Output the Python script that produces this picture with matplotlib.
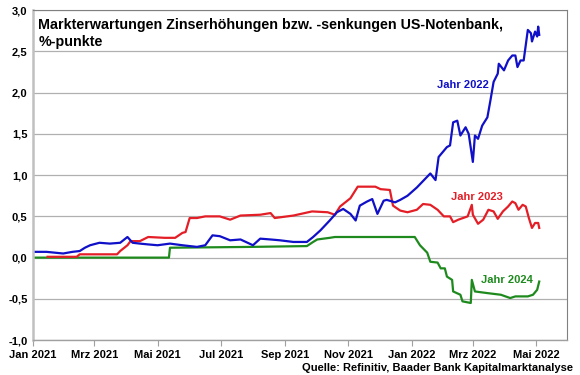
import matplotlib
matplotlib.use("Agg")
import matplotlib.pyplot as plt
import matplotlib.dates as mdates
from matplotlib.ticker import FuncFormatter, MultipleLocator
import pandas as pd

plt.rcParams['font.family'] = ['Liberation Sans', 'DejaVu Sans']
plt.rcParams['font.weight'] = 'bold'

# Markterwartung fuer Jahr 2022 (blau)
dates_2022 = ["2021-01-01", "2021-01-14", "2021-01-30", "2021-02-08", "2021-02-15", "2021-02-20",
              "2021-02-25", "2021-03-06", "2021-03-16", "2021-03-26", "2021-04-02", "2021-04-07",
              "2021-04-14", "2021-04-22", "2021-05-01", "2021-05-13", "2021-05-25", "2021-06-08",
              "2021-06-16", "2021-06-23", "2021-06-30", "2021-07-10", "2021-07-20", "2021-08-01",
              "2021-08-08", "2021-08-18", "2021-08-27", "2021-09-09", "2021-09-22", "2021-09-28",
              "2021-10-05", "2021-10-14", "2021-10-21", "2021-10-27", "2021-11-03", "2021-11-08",
              "2021-11-12", "2021-11-19", "2021-11-24", "2021-11-29", "2021-12-05", "2021-12-08",
              "2021-12-16", "2021-12-21", "2021-12-28", "2022-01-06", "2022-01-19", "2022-01-24",
              "2022-01-27", "2022-02-04", "2022-02-07", "2022-02-10", "2022-02-14", "2022-02-17",
              "2022-02-22", "2022-02-25", "2022-03-01", "2022-03-03", "2022-03-06", "2022-03-10",
              "2022-03-15", "2022-03-18", "2022-03-21", "2022-03-25", "2022-03-26", "2022-03-31",
              "2022-04-04", "2022-04-08", "2022-04-11", "2022-04-13", "2022-04-16", "2022-04-19",
              "2022-04-23", "2022-04-26", "2022-04-27", "2022-04-30", "2022-05-02", "2022-05-03",
              "2022-05-04"]
vals_2022 = [0.07, 0.07, 0.05, 0.07, 0.08, 0.12,
             0.15, 0.18, 0.17, 0.18, 0.25, 0.18,
             0.17, 0.16, 0.15, 0.17, 0.15, 0.13,
             0.15, 0.27, 0.26, 0.21, 0.22, 0.15,
             0.23, 0.22, 0.21, 0.19, 0.19, 0.25,
             0.33, 0.45, 0.55, 0.59, 0.53, 0.45,
             0.63, 0.68, 0.71, 0.53, 0.69, 0.70,
             0.67, 0.70, 0.75, 0.85, 1.02, 0.94,
             1.22, 1.34, 1.36, 1.64, 1.66, 1.48,
             1.58, 1.50, 1.16, 1.48, 1.44, 1.60,
             1.70, 1.91, 2.13, 2.23, 2.35, 2.27,
             2.39, 2.45, 2.45, 2.31, 2.39, 2.39,
             2.76, 2.72, 2.62, 2.74, 2.68, 2.80,
             2.70]

# Markterwartung fuer Jahr 2023 (rot)
dates_2023 = ["2021-01-15", "2021-02-12", "2021-02-15", "2021-03-23", "2021-03-26", "2021-03-30",
              "2021-04-02", "2021-04-05", "2021-04-14", "2021-04-22", "2021-05-08", "2021-05-18",
              "2021-05-25", "2021-05-28", "2021-06-01", "2021-06-08", "2021-06-16", "2021-06-30",
              "2021-07-10", "2021-07-20", "2021-08-08", "2021-08-18", "2021-08-22", "2021-09-09",
              "2021-09-27", "2021-10-12", "2021-10-19", "2021-10-24", "2021-10-31", "2021-11-03",
              "2021-11-10", "2021-11-27", "2021-12-02", "2021-12-11", "2021-12-14", "2021-12-21",
              "2021-12-28", "2022-01-06", "2022-01-12", "2022-01-19", "2022-01-26", "2022-02-01",
              "2022-02-07", "2022-02-10", "2022-02-15", "2022-02-24", "2022-02-28", "2022-03-01",
              "2022-03-06", "2022-03-11", "2022-03-16", "2022-03-21", "2022-03-25", "2022-03-30",
              "2022-04-04", "2022-04-08", "2022-04-11", "2022-04-14", "2022-04-18", "2022-04-21",
              "2022-04-24", "2022-04-27", "2022-04-30", "2022-05-03", "2022-05-04"]
vals_2023 = [0.01, 0.01, 0.04, 0.04, 0.08, 0.12,
             0.15, 0.20, 0.20, 0.25, 0.24, 0.24,
             0.30, 0.31, 0.48, 0.48, 0.50, 0.50,
             0.46, 0.51, 0.52, 0.54, 0.48, 0.51,
             0.56, 0.55, 0.52, 0.62, 0.69, 0.72,
             0.86, 0.86, 0.83, 0.82, 0.63, 0.57,
             0.55, 0.58, 0.65, 0.64, 0.58, 0.50,
             0.50, 0.43, 0.46, 0.50, 0.64, 0.52,
             0.41, 0.46, 0.58, 0.56, 0.47, 0.56,
             0.62, 0.68, 0.66, 0.58, 0.64, 0.62,
             0.48, 0.36, 0.42, 0.42, 0.36]

# Markterwartung fuer Jahr 2024 (gruen)
dates_2024 = ["2021-01-01", "2021-05-12", "2021-05-13", "2021-07-30", "2021-09-22", "2021-09-28",
              "2021-10-02", "2021-10-14", "2021-10-19", "2022-01-04", "2022-01-09", "2022-01-16",
              "2022-01-19", "2022-01-26", "2022-01-29", "2022-02-02", "2022-02-04", "2022-02-09",
              "2022-02-10", "2022-02-17", "2022-02-19", "2022-02-27", "2022-02-28", "2022-03-03",
              "2022-03-15", "2022-03-28", "2022-04-06", "2022-04-11", "2022-04-23", "2022-04-28",
              "2022-05-02", "2022-05-04"]
vals_2024 = [0.00, 0.00, 0.12, 0.13, 0.14, 0.19,
             0.22, 0.24, 0.25, 0.25, 0.15, 0.06,
             -0.05, -0.06, -0.13, -0.13, -0.23, -0.27,
             -0.41, -0.45, -0.53, -0.55, -0.27, -0.41,
             -0.43, -0.45, -0.49, -0.47, -0.47, -0.45,
             -0.39, -0.29]

title = "Markterwartungen Zinserhöhungen bzw. -senkungen US-Notenbank,\n%-punkte"
source = "Quelle: Refinitiv, Baader Bank Kapitalmarktanalyse"

c_2022, c_2023, c_2024 = "#1010C8", "#E41E26", "#1E8A1E"

fig = plt.figure(figsize=(5.8, 3.75), dpi=100)
ax = fig.add_axes([0.057, 0.093, 0.921, 0.88])

ax.plot(pd.to_datetime(dates_2024), vals_2024, color=c_2024, lw=1.6)
ax.plot(pd.to_datetime(dates_2023), vals_2023, color=c_2023, lw=1.6)
ax.plot(pd.to_datetime(dates_2022), vals_2022, color=c_2022, lw=1.6)

ax.set_ylim(-1.0, 3.0)
ax.set_xlim(pd.Timestamp("2021-01-01"), pd.Timestamp("2022-05-31"))
ax.yaxis.set_major_locator(MultipleLocator(0.5))
ax.yaxis.set_major_formatter(FuncFormatter(lambda v, p: f"{v:.1f}".replace(".", ",")))

ax.xaxis.set_major_locator(mdates.MonthLocator(bymonth=[1, 3, 5, 7, 9, 11]))
months = {1: "Jan", 3: "Mrz", 5: "Mai", 7: "Jul", 9: "Sep", 11: "Nov"}
ax.xaxis.set_major_formatter(FuncFormatter(
    lambda v, p: f"{months[mdates.num2date(v).month]} {mdates.num2date(v).year}"))

ax.grid(axis="y", color="#b0b0b0", lw=0.9)
ax.set_axisbelow(True)
for side in ["top", "right"]:
    ax.spines[side].set_color("#808080")
    ax.spines[side].set_linewidth(0.8)
ax.spines["left"].set_color("#c0c0c0")
ax.spines["left"].set_linewidth(1.8)
ax.spines["bottom"].set_color("#a0a0a0")
ax.spines["bottom"].set_linewidth(1.0)
ax.tick_params(axis="y", length=0, labelsize=8, pad=4)
ax.tick_params(axis="x", length=4, color="#a0a0a0", labelsize=8, pad=3)

ax.text(0.01, 0.975, title, transform=ax.transAxes, fontsize=10.3, fontweight="bold",
        va="top", ha="left", linespacing=1.2)
ax.text(pd.Timestamp("2022-01-25"), 2.05, "Jahr 2022", color=c_2022, fontsize=8, fontweight="bold")
ax.text(pd.Timestamp("2022-02-08"), 0.70, "Jahr 2023", color=c_2023, fontsize=8, fontweight="bold")
ax.text(pd.Timestamp("2022-03-09"), -0.31, "Jahr 2024", color=c_2024, fontsize=8, fontweight="bold")

fig.text(0.988, 0.005, source, ha="right", va="bottom", fontsize=8, fontweight="bold")

fig.savefig("out.png", dpi=100)
